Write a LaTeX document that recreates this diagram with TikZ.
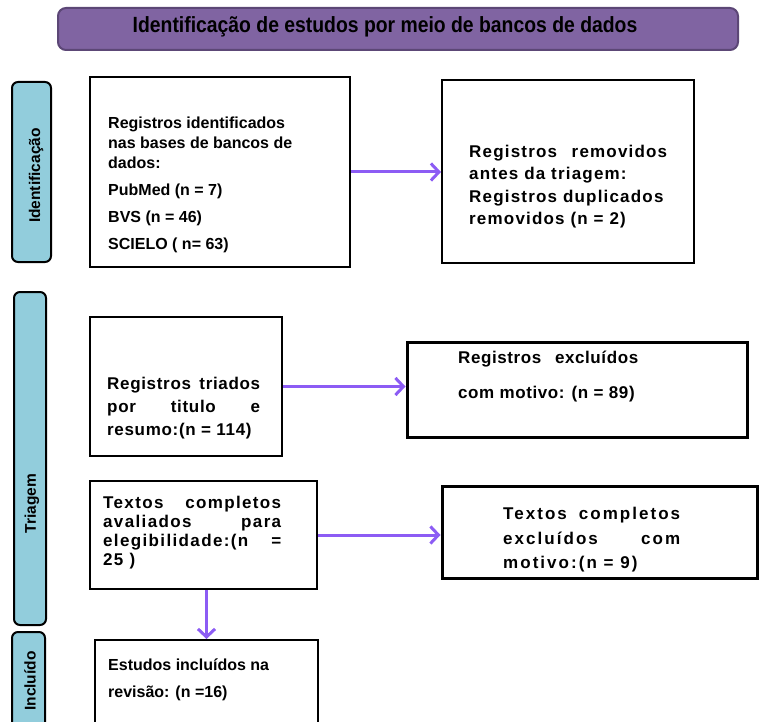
\documentclass[tikz,border=0pt]{standalone}
\usepackage{fontspec}
\setmainfont{Liberation Sans}
\usetikzlibrary{arrows.meta}

\definecolor{roxo}{RGB}{128,100,162}
\definecolor{roxoborda}{RGB}{92,71,118}
\definecolor{azulfase}{RGB}{146,205,220}
\definecolor{seta}{RGB}{140,92,244}

\newcommand{\linha}[2]{\makebox[#1][s]{#2}}

\begin{document}
\begin{tikzpicture}[
    x = 1pt,
    y = -1pt,
    >={Straight Barb[length=8pt,width=17pt]},
    caixa/.style = {
      draw,
      rectangle,
      line width = 2pt,
      inner sep = 0pt
    },
    caixagrossa/.style = {caixa, line width = 3pt},
    fase/.style = {
      draw,
      fill = azulfase,
      line width = 2pt,
      rounded corners = 6pt,
      inner sep = 0pt
    },
    fasetexto/.style = {rotate = 90, inner sep = 0pt, font = \fontsize{15.5}{18}\selectfont\bfseries},
    texto/.style = {anchor = north west, inner sep = 0pt, align = left, font = \fontsize{16}{20}\selectfont\bfseries},
    espacado/.style n args = {3}{texto, font = \fontsize{#1}{#3}\selectfont\bfseries\addfontfeature{LetterSpace=#2}},
    fluxo/.style = {->, draw = seta, line width = 3pt}
  ]
  \useasboundingbox (0,0) rectangle (760,722);
  \clip (0,0) rectangle (760,722);

  % titulo
  \node[draw = roxoborda, fill = roxo, line width = 2pt, rounded corners = 8pt,
        minimum width = 680, minimum height = 42] (titulo) at (398,29) {};
  \node[font = \fontsize{22}{26}\selectfont\bfseries\addfontfeature{FakeStretch=0.88}] (titulotxt) at (385,27)
    {Identificação de estudos por meio de bancos de dados};

  % fases
  \node[fase, minimum width = 39, minimum height = 180] (fase1) at (31.5,172) {};
  \node[fase, minimum width = 32, minimum height = 333] (fase2) at (30,458.5) {};
  \node[fase, minimum width = 33, minimum height = 108] (fase3) at (28.5,686) {};
  \node[fasetexto] (fase1txt) at (36,175.5) {Identificação};
  \node[fasetexto] (fase2txt) at (32,503.5) {Triagem};
  \node[fasetexto] (fase3txt) at (30,681) {Incluído};

  % caixas
  \node[caixa, minimum width = 260, minimum height = 190] (identificados) at (220,172) {};
  \node[caixa, minimum width = 252, minimum height = 183] (removidos) at (568,171.5) {};
  \node[caixa, minimum width = 192, minimum height = 139] (triados) at (186,386.5) {};
  \node[caixagrossa, minimum width = 340, minimum height = 95] (excluidos) at (577,389.5) {};
  \node[caixa, minimum width = 227, minimum height = 108] (avaliados) at (203.5,535) {};
  \node[caixagrossa, minimum width = 315, minimum height = 92] (completos) at (599.5,532) {};
  \node[caixa, minimum width = 223, minimum height = 100] (incluidos) at (206.5,690) {};

  % textos
  \node[texto] (identificadostxt) at (108,117) {Registros identificados\\
    nas bases de bancos de\\
    dados:\\[7pt]
    PubMed (n = 7)\\[7pt]
    BVS (n = 46)\\[7pt]
    SCIELO ( n= 63)};
  \node[espacado = {17}{7}{22.3}] (removidostxt) at (469,145) {\linha{198pt}{Registros \ removidos}\\
    antes da triagem:\\
    Registros duplicados\\
    removidos (n = 2)};
  \node[espacado = {17}{4}{23}] (triadostxt) at (107,376.5) {\linha{153pt}{Registros triados}\\
    \linha{153pt}{por titulo e}\\
    resumo:(n = 114)};
  \node[espacado = {17}{3.5}{21}] (excluidostxt) at (458,350.5) {\linha{180pt}{Registros \ excluídos}\\[14pt]
    com motivo: (n = 89)};
  \node[espacado = {17}{8}{19}] (avaliadostxt) at (103,495.5) {\linha{178pt}{Textos completos}\\
    \linha{178pt}{avaliados para}\\
    \linha{178pt}{elegibilidade:(n =}\\
    25 )};
  \node[espacado = {17}{12}{24.5}] (completostxt) at (503,507) {\linha{177pt}{Textos completos}\\
    \linha{177pt}{excluídos com}\\
    motivo:(n = 9)};
  \node[texto] (incluidostxt) at (108,659) {Estudos incluídos na\\[7pt]
    revisão: (n =16)};

  % setas
  \draw[fluxo] (identificados.east) -- (removidos.west |- identificados.east);
  \draw[fluxo] (triados.east) -- (excluidos.west |- triados.east);
  \draw[fluxo] (avaliados.east) -- (completos.west |- avaliados.east);
  \draw[fluxo] (incluidos.north |- avaliados.south) -- (incluidos.north);

\end{tikzpicture}
\end{document}
